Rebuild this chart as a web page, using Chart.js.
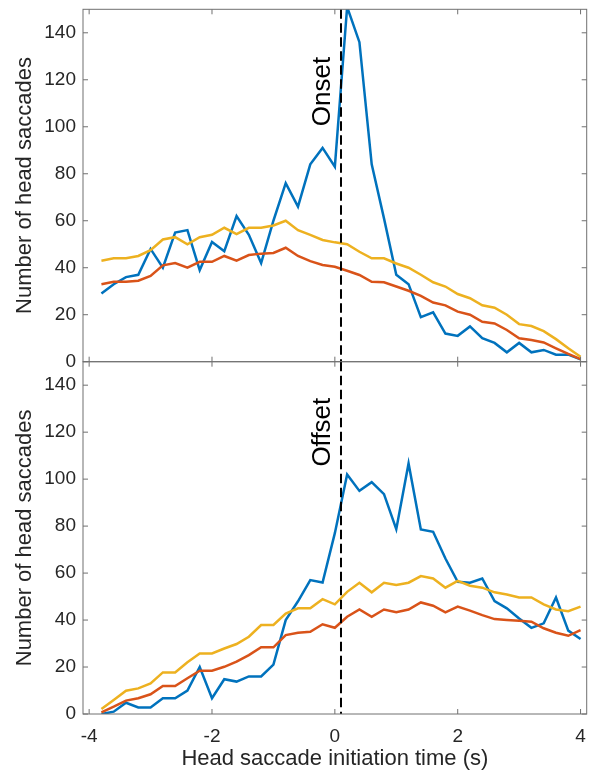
<!DOCTYPE html>
<html>
<head>
<meta charset="utf-8">
<script src="https://cdn.jsdelivr.net/npm/chart.js@4/dist/chart.umd.min.js"></script>
<style>
  body { margin: 0; background: #fff; }
  #wrap { position: relative; width: 591px; height: 778px; }
  #wrap canvas { position: absolute; left: 0; top: 0; }
</style>
</head>
<body>
<div id="wrap">
  <canvas id="onset_graph" width="591" height="778"></canvas>
  <canvas id="offset_graph" width="591" height="778"></canvas>
</div>
<script>
//data####################################################

var times = [-3.8, -3.6, -3.4, -3.2, -3.0, -2.8, -2.6, -2.4, -2.2, -2.0,
             -1.8, -1.6, -1.4, -1.2, -1.0, -0.8, -0.6, -0.4, -0.2, 0.0,
              0.2,  0.4,  0.6,  0.8,  1.0,  1.2,  1.4,  1.6,  1.8, 2.0,
              2.2,  2.4,  2.6,  2.8,  3.0,  3.2,  3.4,  3.6,  3.8, 4.0];

// onset panel
var onsetBlue = [29, 33, 36, 37, 48, 40, 55, 56, 39, 51,
                 47, 62, 54, 42, 60, 76, 66, 84, 91, 83,
                 151, 136, 84, 61, 37, 33, 19, 21, 12, 11,
                 15, 10, 8, 4, 8, 4, 5, 3, 3, 1];
var onsetOrange = [33, 34, 34, 34.5, 36.5, 41, 42, 40, 42.5, 42.5,
                   45, 43, 45.4, 46, 46.3, 48.5, 45, 42.8, 41.2, 40.4,
                   38.7, 36.9, 34, 33.8, 32, 30.2, 28, 25.2, 24, 21.3,
                   20, 17, 16.3, 13.5, 10, 9.2, 8.2, 5.7, 3.3, 1.1];
var onsetYellow = [43, 44, 44, 45, 47.5, 52, 53, 50, 53, 54,
                   57, 54.3, 57, 57, 58, 60, 56, 54, 51.8, 50.8,
                   50, 46.8, 44, 44, 41.8, 40, 37, 33.8, 32, 28.8,
                   27, 24, 23, 20, 16, 15.2, 13, 9.6, 5.7, 2.1];

// offset panel
var offsetBlue = [0, 1, 4.8, 2.8, 2.8, 6.7, 6.7, 10, 20, 6.7,
                  14.8, 13.8, 16, 16, 21, 40, 48, 57, 56, 77,
                  102, 95, 98.7, 93.6, 78.7, 106.7, 78.6, 77.6, 66.2, 56.3,
                  55.9, 57.7, 48.1, 45, 40.7, 36.7, 38.6, 49.6, 35.5, 31.9];
var offsetOrange = [0.7, 3.1, 5.7, 6.7, 8.4, 11.9, 11.9, 15.2, 18.4, 18.4,
                    20.1, 22.3, 25.1, 28.4, 28.4, 33.6, 34.6, 35, 38.2, 36.7,
                    41.4, 44.5, 41.4, 44.5, 43.3, 44.5, 47.5, 46.1, 43.3, 45.7,
                    44, 42.1, 40.4, 40, 39.7, 39.3, 36.5, 34.6, 33.3, 35.7];
var offsetYellow = [2.1, 6, 9.9, 10.9, 13, 17.7, 17.7, 22, 25.8, 25.8,
                    27.9, 29.8, 32.9, 37.9, 37.9, 42.8, 45, 45, 48.9, 46.7,
                    52, 55.9, 51.8, 55.9, 54.9, 55.9, 58.7, 57.7, 53.8, 56.7,
                    54.6, 53.8, 51.8, 50.9, 49.6, 49.6, 46.7, 44.5, 43.8, 45.7];

var markerTime = 0.1;
var xTicks = [-4, -2, 0, 2, 4];
var yTicks = [0, 20, 40, 60, 80, 100, 120, 140];

//box, inner ticks, dashed marker, panel label#############

var FONT = '"Liberation Sans", Arial, sans-serif';

var matlabFrame = {
  id: 'matlabFrame',
  afterDatasetsDraw: function(chart, args, opts) {
    var ctx = chart.ctx;
    var a = chart.chartArea;
    var xs = chart.scales.x;
    var ys = chart.scales.y;
    ctx.save();

    var px = xs.getPixelForValue(markerTime);
    ctx.strokeStyle = '#000';
    ctx.lineWidth = 2;
    ctx.setLineDash([9.5, 4.5]);
    ctx.beginPath();
    ctx.moveTo(px, a.top);
    ctx.lineTo(px, a.bottom);
    ctx.stroke();
    ctx.setLineDash([]);

    ctx.strokeStyle = '#707070';
    ctx.lineWidth = 1;
    ctx.strokeRect(a.left, a.top, a.right - a.left, a.bottom - a.top);
    ctx.beginPath();
    xTicks.forEach(function(t) {
      var p = xs.getPixelForValue(t);
      ctx.moveTo(p, a.bottom); ctx.lineTo(p, a.bottom - 5);
      ctx.moveTo(p, a.top); ctx.lineTo(p, a.top + 5);
    });
    yTicks.forEach(function(t) {
      var p = ys.getPixelForValue(t);
      ctx.moveTo(a.left, p); ctx.lineTo(a.left + 5, p);
      ctx.moveTo(a.right, p); ctx.lineTo(a.right - 5, p);
    });
    ctx.stroke();

    ctx.translate(xs.getPixelForValue(opts.atX), ys.getPixelForValue(opts.atY));
    ctx.rotate(-Math.PI / 2);
    ctx.fillStyle = '#000';
    ctx.font = '26px ' + FONT;
    ctx.textAlign = 'center';
    ctx.textBaseline = 'middle';
    ctx.fillText(opts.text, 0, 0);
    ctx.restore();
  }
};

function points(vals) {
  return vals.map(function(v, i) { return {x: times[i], y: v}; });
}

function series(vals, color, order) {
  return {
    data: points(vals),
    borderColor: color,
    borderWidth: 2.5,
    pointRadius: 0,
    fill: false,
    tension: 0,
    order: order
  };
}

// label paddings would move the plot box, so drop them
function noPad(s) {
  s.paddingLeft = 0;
  s.paddingRight = 0;
  s.paddingTop = 0;
  s.paddingBottom = 0;
}

//panel####################################################

function panel(id, blue, orange, yellow, label, labelY, padTop, padBottom, showX) {
  var ctx = document.getElementById(id).getContext('2d');
  return new Chart(ctx, {
    type: 'line',
    data: {
      datasets: [
        series(blue, '#0072BD', 3),
        series(orange, '#D95319', 2),
        series(yellow, '#EDB120', 1)
      ]
    },
    plugins: [matlabFrame],
    options: {
      responsive: false,
      animation: false,
      devicePixelRatio: 1,
      layout: { padding: { left: 0, right: 4.3, top: padTop, bottom: padBottom } },
      plugins: {
        legend: { display: false },
        tooltip: { enabled: false },
        matlabFrame: { text: label, atX: -0.19, atY: labelY }
      },
      scales: {
        x: {
          type: 'linear',
          min: -4.1,
          max: 4.1,
          afterFit: function(s) { s.height = showX ? 64 : 0; noPad(s); },
          grid: { display: false, drawTicks: false },
          border: { display: false },
          ticks: {
            display: showX,
            stepSize: 2,
            includeBounds: false,
            padding: 11,
            color: '#262626',
            font: { family: FONT, size: 19 }
          },
          title: {
            display: showX,
            text: 'Head saccade initiation time (s)',
            color: '#262626',
            padding: { top: 0, bottom: 6 },
            font: { family: FONT, size: 22 }
          }
        },
        y: {
          min: 0,
          max: 150,
          afterFit: function(s) { s.width = 83; noPad(s); },
          grid: { display: false, drawTicks: false },
          border: { display: false },
          ticks: {
            stepSize: 20,
            includeBounds: false,
            padding: 7,
            color: '#262626',
            font: { family: FONT, size: 19 }
          },
          title: {
            display: true,
            text: 'Number of head saccades',
            color: '#262626',
            padding: { top: 12, bottom: 0 },
            font: { family: FONT, size: 22 }
          }
        }
      }
    }
  });
}

panel('onset_graph', onsetBlue, onsetOrange, onsetYellow, 'Onset', 115, 9.3, 416.3, false);
panel('offset_graph', offsetBlue, offsetOrange, offsetYellow, 'Offset', 120, 361.7, 0, true);
</script>
</body>
</html>
